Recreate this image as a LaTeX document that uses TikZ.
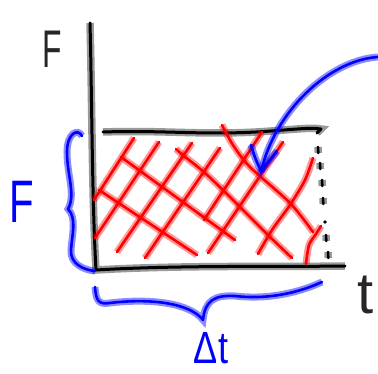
\documentclass[tikz,border=0pt]{standalone}
\usepackage{fontspec}
\setmainfont{Liberation Sans}
\usepackage{graphicx}
\tikzset{
  ink/.style={line cap=round,line join=round},
  blackpen/.style={ink,draw=black,line width=3pt,preaction={draw=black,line width=7.5pt,opacity=.4}},
  redpen/.style={ink,draw=red,line width=2.6pt,preaction={draw=red,line width=7pt,opacity=.4}},
  bluepen/.style={ink,draw=blue,line width=2.6pt,preaction={draw=blue,line width=7pt,opacity=.45}},
}
\newcommand{\inkdash}[2]{\draw[blackpen,line width=2.6pt] (#1,#2-3)--(#1+0.3,#2+3);}

\begin{document}
\begin{tikzpicture}[x=1pt,y=-1pt]
\useasboundingbox (0,0) rectangle (378,374);
\coordinate (O) at (96,270);
% axes
\draw[blackpen] (90,23) .. controls (92,100) and (92,200) .. (O) .. controls (180,265) and (280,267) .. (345,266);
% force level
\draw[blackpen] (103,132) .. controls (160,130) and (200,135) .. (256,132) .. controls (290,130) and (310,127) .. (321,129) -- (317,133);
\foreach \x/\y in {318/150, 320/166, 322/183, 323/201, 326/238, 328/255} {\inkdash{\x}{\y}}
\fill (325,222) circle (1.8);
% hatching
\foreach \xa/\ya/\xb/\yb in {134/138/94/200, 159/142/95/238, 192/143/117/252, 220/148/145/258,
  262/132/204/220, 283/142/208/253, 121/157/235/240, 99/190/197/255}
  \draw[redpen] (\xa,\ya) -- (\xb,\yb);
\draw[redpen] plot[smooth] coordinates {(176,149) (184,156) (205,173) (230,197) (268,235) (292,258)};
\draw[redpen] plot[smooth] coordinates {(222,125) (233,145) (250,167) (290,203) (313,232)};
\draw[redpen] plot[smooth] coordinates {(313,158) (305,180) (290,205) (272,230) (258,254)};
\draw[redpen] plot[smooth] coordinates {(321,226) (316,234) (309,245) (306,264)};
% arrow
\draw[bluepen] (378,57) .. controls (330,60) and (275,110) .. (261,172);
\draw[bluepen] (251,145) .. controls (255,158) .. (261,171) -- (277,151);
% braces
\draw[bluepen] (82,136) .. controls (78,128) and (67,133) .. (67,152) .. controls (67,175) and (76,195) .. (68,209)
  .. controls (77,218) and (72,235) .. (71,250) .. controls (70,264) and (84,270) .. (95,271);
\draw[bluepen] (95,287) .. controls (96,300) and (98,305) .. (110,303) .. controls (150,298) and (190,303) .. (203,320)
  .. controls (205,300) and (215,295) .. (235,296) .. controls (270,300) and (300,292) .. (322,282);
% labels
\node[inner sep=0,text=black!85] (Fy) at (52,49) {\fontsize{53}{53}\selectfont\scalebox{0.6}[1]{F}};
\node[inner sep=0,text=black!85] (tx) at (366,295) {\fontsize{58}{58}\selectfont t};
\node[inner sep=0,text=blue] (Fl) at (22,202) {\fontsize{60}{60}\selectfont\scalebox{0.67}[1]{F}};
\node[inner sep=0,text=blue] (dt) at (211,348) {\fontsize{45}{45}\selectfont\scalebox{0.8}[1]{Δt}};
\end{tikzpicture}
\end{document}
